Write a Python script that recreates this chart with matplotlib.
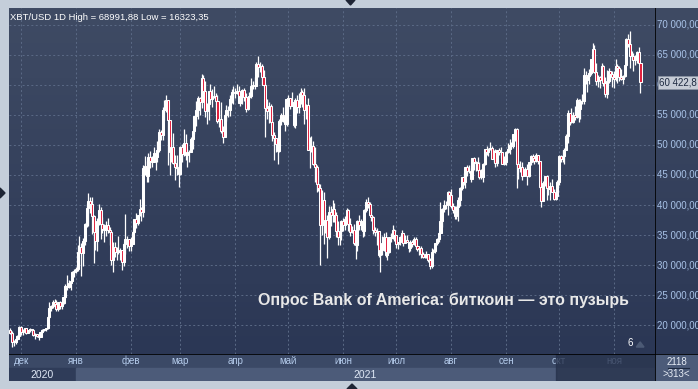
import numpy as np
import pandas as pd
import matplotlib.pyplot as plt
from matplotlib.patches import Polygon, Rectangle
from matplotlib.transforms import blended_transform_factory

# ---------------- data: XBT/USD daily, 2020-11-25 .. 2021-11-16 ----------------
start_date = '2020-11-25'
first_open = 19170

closes = [
    18730, 17150, 17140, 17720, 18180, 19700,  # nov 2020
    18770, 19210, 19440, 18690, 19150, 19360, 19170, 18320, 18550, 18250, 18040, 18800, 19170, 19270, 19440, 21350,
    22820, 23130, 23860, 23480, 22730, 23820, 23250, 23720, 24690, 26450, 26270, 27050, 27370, 28890, 28990,  # dec
    29390, 32190, 33000, 31990, 33990, 36820, 39470, 40670, 40240, 38240, 35530, 34010, 37390, 39150, 36770, 36010,
    35810, 36630, 35890, 35500, 30830, 33010, 32090, 32290, 32250, 32500, 30430, 33450, 34300, 34300, 33110,  # jan
    33530, 35510, 37660, 36960, 38290, 39260, 38900, 46200, 46480, 44850, 47990, 47410, 47200, 48620, 47920, 49160,
    52120, 51600, 55900, 55900, 57490, 54100, 48890, 49700, 47060, 46280, 46110, 45140,  # feb
    49600, 48440, 50350, 48370, 48760, 48880, 50970, 52380, 54880, 55860, 57800, 57220, 61190, 59000, 55650, 56900,
    58920, 57650, 58030, 58100, 57350, 54080, 54340, 52300, 51320, 55050, 55820, 55780, 57620, 58780, 58800,  # mar
    58740, 58970, 57060, 58200, 59130, 57990, 56000, 58080, 58090, 59770, 60000, 59850, 63550, 62950, 63150, 61340,
    60050, 56200, 55700, 56500, 53800, 51700, 51150, 50100, 49040, 54020, 55050, 54850, 53570, 57740,  # apr
    57810, 56580, 57200, 53250, 57470, 56400, 57380, 58870, 58270, 55850, 56710, 49180, 49700, 49900, 46800, 46400,
    43500, 42900, 36700, 40800, 37300, 37500, 34700, 38800, 38400, 39300, 38400, 35700, 34600, 35700, 37300,  # may
    36700, 37600, 39200, 36900, 35500, 35800, 33600, 33400, 37400, 36700, 37300, 35600, 39100, 40500, 40100, 38300,
    38000, 35800, 35500, 35600, 31600, 32500, 33700, 34600, 31600, 32200, 34600, 34500, 35900, 35000,  # jun
    33500, 33800, 34700, 35300, 33700, 34200, 33900, 32900, 33800, 33500, 34300, 33100, 32700, 32800, 31800, 31400,
    31500, 31800, 30800, 29800, 32100, 32300, 33600, 34300, 35400, 37300, 39400, 40000, 40000, 42200, 41600,  # jul
    39900, 39200, 38200, 39700, 40900, 42800, 44600, 43800, 46300, 45600, 45600, 44400, 47800, 47100, 47000, 45900,
    44700, 44600, 46800, 49300, 48900, 49300, 49500, 47700, 48900, 47000, 49100, 48900, 48800, 46900, 47100,  # aug
    48800, 49300, 50000, 49900, 51800, 52700, 46800, 46100, 46400, 44800, 45200, 46000, 44900, 47100, 48200, 47800,
    47300, 48300, 47300, 43000, 40700, 43600, 44900, 42800, 42700, 43200, 42200, 41000, 41500, 43800,  # sep
    48100, 47700, 48200, 49200, 51500, 55300, 53800, 53900, 55000, 54700, 57500, 56000, 57400, 57300, 61700, 60900,
    61500, 62000, 64300, 66000, 62200, 60700, 61300, 60900, 63100, 60300, 58500, 60600, 62300, 61900, 61300,  # oct
    61000, 63200, 62900, 61400, 61000, 61500, 63300, 67600, 66900, 64900, 64900, 64200, 64400, 65500, 63600, 60420,  # nov
]

highs = [
    19480, 19000, 17470, 17880, 18350, 19850,
    19900, 19300, 19580, 19500, 19170, 19420, 19390, 19280, 18640, 18560, 18280, 18950, 19410, 19330, 19560, 21500,
    23780, 23260, 24170, 24300, 24100, 23850, 24080, 23770, 24780, 26870, 28400, 27450, 27400, 28990, 29300,
    29690, 33300, 34800, 33600, 34450, 36950, 40180, 41950, 41380, 41350, 38260, 36600, 37850, 40100, 39700, 37950,
    36800, 37400, 37850, 36400, 35600, 33800, 33800, 32950, 34870, 32800, 32560, 33800, 38500, 34900, 34300,
    34700, 35900, 37700, 38700, 38300, 40950, 39700, 46700, 48200, 47300, 48600, 48950, 48100, 49700, 49000, 50600,
    52600, 52500, 56300, 57500, 58350, 57500, 54200, 51300, 52000, 48400, 48300, 46600,
    49800, 50200, 52600, 51800, 49400, 49200, 51400, 52400, 54900, 57400, 58100, 58000, 61800, 61600, 60600, 57000,
    59000, 60100, 59400, 59900, 58600, 58400, 55800, 57200, 53200, 55100, 56600, 56500, 58400, 59400, 59800,
    59500, 60100, 59800, 58500, 59300, 59500, 58700, 58200, 58800, 61200, 60700, 61300, 63800, 64900, 63800, 63500,
    62500, 60400, 57600, 57100, 56800, 55500, 52100, 51200, 50500, 54300, 55300, 56400, 55200, 57900,
    58400, 57900, 58900, 57200, 57900, 58300, 58600, 59500, 59200, 59500, 56900, 57900, 51300, 51500, 50600, 49700,
    46600, 45800, 43500, 42500, 42200, 38800, 38300, 39900, 39800, 40800, 40400, 38800, 37300, 36400, 37500,
    37900, 38200, 39500, 39300, 37900, 36500, 36800, 34000, 37500, 38400, 37700, 37400, 39400, 41000, 41300, 40500,
    39500, 38200, 36400, 36100, 35700, 33300, 34800, 35300, 35500, 32700, 34700, 35300, 36600, 36000,
    35000, 33900, 34900, 35900, 35300, 35000, 35000, 33900, 34100, 34200, 34600, 34600, 33300, 33100, 33200, 32200,
    31900, 32400, 31900, 31100, 32800, 32600, 33600, 34500, 35500, 40500, 39500, 40900, 40600, 42300, 42400,
    42600, 40400, 39800, 39900, 41400, 43000, 44700, 45300, 46400, 46700, 46700, 46200, 47900, 48000, 47400, 48000,
    47100, 46000, 47000, 49400, 49800, 49500, 50500, 49900, 49200, 49400, 49200, 49500, 49700, 48900, 48200,
    49000, 50400, 51000, 50500, 51900, 52800, 52900, 47400, 47300, 47100, 45900, 46400, 46900, 47200, 48400, 48500,
    48100, 48700, 48400, 47400, 43600, 44000, 44900, 45000, 42900, 43900, 44300, 42700, 42600, 44100,
    48400, 48400, 49200, 49500, 51900, 55800, 55300, 56100, 55500, 56500, 57800, 57600, 57700, 58500, 62900, 62300,
    61700, 62600, 64400, 67000, 66600, 63700, 61700, 61500, 63700, 63300, 61400, 62500, 62900, 62300, 62400,
    62400, 64300, 63500, 63100, 62600, 61600, 63400, 67800, 68500, 68990, 65600, 65400, 65000, 65600, 66300, 63600,
]

lows = [
    18580, 16330, 16500, 16900, 17560, 18180,
    18330, 18350, 18950, 18580, 18600, 18900, 18900, 18220, 17650, 17920, 17580, 18010, 18730, 19000, 19050, 19290,
    21230, 22350, 22770, 23070, 22390, 22340, 22670, 22730, 23450, 24500, 25850, 26100, 25880, 27330, 28000,
    28700, 28960, 32000, 28130, 29900, 33300, 36400, 36500, 38720, 35110, 30300, 32500, 32400, 36700, 34400, 35400,
    33900, 34800, 35300, 33400, 30070, 28800, 31400, 30900, 31900, 30800, 29240, 29900, 31900, 32900, 32300,
    32300, 33430, 35400, 36200, 36600, 38200, 37400, 37990, 45000, 43800, 43800, 46200, 46300, 47100, 45900, 47100,
    48900, 50900, 50800, 54100, 55500, 46600, 45000, 47100, 46800, 44100, 45000, 43000,
    45000, 47100, 48100, 47500, 46300, 47100, 48900, 49300, 51900, 53100, 54300, 55000, 56100, 58900, 54600, 53500,
    54200, 57000, 56300, 57900, 55500, 53700, 53000, 52000, 50400, 51300, 53950, 54700, 54900, 57000, 56900,
    57900, 58500, 57000, 56500, 56800, 57400, 55500, 55800, 57700, 57900, 59300, 59400, 59800, 61300, 62100, 60000,
    59700, 51300, 54300, 53600, 53700, 50600, 47500, 48800, 46900, 48800, 53400, 53900, 52400, 53100,
    57000, 56000, 56500, 53000, 52900, 55300, 55300, 56900, 56300, 53500, 54400, 49100, 46200, 48900, 46600, 43900,
    42200, 42300, 30000, 35000, 33500, 35300, 31100, 34400, 36500, 37200, 37200, 34700, 33400, 33400, 34200,
    35700, 35900, 37200, 35600, 34800, 35300, 33400, 31000, 32400, 35800, 35900, 34700, 34800, 38800, 39500, 38100,
    37400, 35200, 34900, 33400, 31300, 28800, 31700, 32400, 31300, 30800, 32000, 33900, 34300, 34000,
    32800, 32700, 33400, 34400, 33200, 33600, 33800, 32100, 32300, 33000, 33300, 32700, 32300, 31600, 31200, 31100,
    31100, 31200, 30500, 29300, 29500, 31700, 32000, 33400, 33900, 35300, 36400, 38800, 39300, 38400, 41000,
    39500, 38700, 37700, 37600, 37400, 39900, 42500, 43400, 42900, 44800, 45400, 43800, 44300, 45900, 45600, 45700,
    44400, 44300, 43900, 46700, 48300, 48100, 49100, 47600, 47200, 46400, 46500, 48400, 47900, 46800, 46700,
    46600, 48600, 48500, 49500, 49500, 50700, 42800, 44400, 45500, 44200, 44800, 44800, 43400, 44700, 46700, 47100,
    46900, 47100, 46900, 42600, 39700, 40600, 43100, 40800, 41700, 40800, 42100, 40800, 40800, 41500,
    43300, 47100, 47100, 46900, 49100, 50400, 53400, 53700, 53700, 54100, 54500, 53900, 54300, 56800, 56900, 60200,
    58900, 60100, 61600, 63500, 62000, 60000, 59700, 59500, 60700, 59900, 58000, 57800, 60300, 60700, 59600,
    59500, 60700, 60400, 60700, 60800, 60100, 61400, 63100, 66300, 62800, 64100, 62300, 63400, 63600, 63500, 58600,
]

month_labels = ['дек', 'янв', 'фев', 'мар', 'апр', 'май', 'июн', 'июл', 'авг', 'сен', 'окт', 'ноя']
price_levels = [20000, 25000, 30000, 35000, 40000, 45000, 50000, 55000, 60000, 65000, 70000]
last_price_label = '60 422,8'
title = 'XBT/USD 1D High = 68991,88 Low = 16323,35'
headline = 'Опрос Bank of America: биткоин — это пузырь'

assert len(closes) == len(highs) == len(lows)

# ---------------- prep ----------------
dates = pd.date_range(start_date, periods=len(closes), freq='D')
x = np.arange(len(closes))
closes = np.array(closes, dtype=float)
opens = np.concatenate([[first_open], closes[:-1]])
highs = np.array(highs, dtype=float)
lows = np.array(lows, dtype=float)
up = closes >= opens

month_starts = pd.date_range('2020-12-01', '2021-11-01', freq='MS')
month_x = np.array([(d - dates[0]).days for d in month_starts])
year_x = (pd.Timestamp('2021-01-01') - dates[0]).days

xlim = (-0.8, 364.2)
ylim = (15167, 72833)

W, H = 698, 389
fig = plt.figure(figsize=(W / 100, H / 100), dpi=100, facecolor='#c4ceda')


def px_axes(x0, y0, x1, y1):
    return fig.add_axes([x0 / W, 1 - y1 / H, (x1 - x0) / W, (y1 - y0) / H])


def gradient(a, top, bottom):
    t = np.linspace(0, 1, 256)[:, None]
    c0 = np.array(plt.matplotlib.colors.to_rgb(top))
    c1 = np.array(plt.matplotlib.colors.to_rgb(bottom))
    img = (c0 * (1 - t) + c1 * t)[:, None, :]
    a.imshow(img, extent=[0, 1, 0, 1], transform=a.transAxes, aspect='auto', zorder=0)


# ---------------- main panel ----------------
ax = px_axes(9, 8, 655, 354)
gradient(ax, '#3f4b64', '#2b3755')
ax.set_xlim(*xlim)
ax.set_ylim(*ylim)
for sp in ax.spines.values():
    sp.set_visible(False)
ax.set_xticks([])
ax.set_yticks([])

grid_kw = dict(color='#5b6a86', lw=0.7, linestyles=(0, (2, 2.5)), zorder=1)
ax.hlines(price_levels, *xlim, **grid_kw)
ax.vlines(month_x, *ylim, **grid_kw)

# candles
ax.vlines(x, lows, highs, color='white', lw=0.9, zorder=3)
body_lo = np.minimum(opens, closes)
body_h = np.abs(closes - opens)
ax.bar(x, body_h, bottom=body_lo, width=1.15,
       color=np.where(up, 'white', '#e01e3c'), edgecolor='white', linewidth=0.75, zorder=4)

ax.text(0.0015, 0.985, title, transform=ax.transAxes, ha='left', va='top',
        fontsize=6.8, color='white', family='Liberation Sans')
ax.text(0.673, 0.155, headline, transform=ax.transAxes, ha='center', va='center',
        fontsize=11.5, color='#e8e8e8', family='Liberation Sans', fontweight='bold')
ax.text(0.962, 0.018, '6', transform=ax.transAxes, ha='center', va='bottom',
        fontsize=7, color='white', family='Liberation Sans')
ax.add_patch(Polygon([[0.971, 0.02], [0.983, 0.02], [0.977, 0.035]], closed=True,
                     transform=ax.transAxes, color='#4c5a75', zorder=5))

# ---------------- right price axis ----------------
axr = px_axes(655, 8, 698, 354)
gradient(axr, '#3f4b64', '#2b3755')
axr.set_xlim(0, 1)
axr.set_ylim(*ylim)
axr.set_xticks([])
axr.set_yticks([])
for sp in axr.spines.values():
    sp.set_visible(False)
axr.axvline(0, color='black', lw=1.2)
tr = blended_transform_factory(axr.transAxes, axr.transData)
for v in price_levels:
    lab = f'{v:,.2f}'.replace(',', ' ').replace('.', ',')
    axr.text(0.05, v, lab, transform=tr, ha='left', va='center',
             fontsize=7, color='#a9c3e8', family='Liberation Sans', clip_on=False)
axr.text(0.1, closes[-1], last_price_label, transform=tr, ha='left', va='center',
         fontsize=7, color='#1d2940', family='Liberation Sans',
         bbox=dict(boxstyle='square,pad=0.15', fc='#c6ccd6', ec='#8a93a3', lw=0.6))

# ---------------- bottom time axis ----------------
axb = px_axes(9, 354, 655, 381)
axb.set_xlim(*xlim)
axb.set_ylim(0, 1)
axb.set_xticks([])
axb.set_yticks([])
for sp in axb.spines.values():
    sp.set_visible(False)
axb.axhspan(0.48, 1, color='#3b4966', zorder=0)
axb.add_patch(Rectangle((xlim[0], 0), year_x - xlim[0], 0.48, color='#2f3c59', zorder=0))
axb.add_patch(Rectangle((year_x, 0), xlim[1] - year_x, 0.48, color='#4c5b79', zorder=0))
axb.axhline(1, color='black', lw=1.2, zorder=5)
for mx, lab in zip(month_x, month_labels):
    axb.text(mx, 0.74, lab, ha='center', va='center', fontsize=7, color='#b4cbeb',
             family='Liberation Sans', zorder=2)
axb.text((xlim[0] + year_x) / 2, 0.24, '2020', ha='center', va='center', fontsize=7.5,
         color='#dfe8f5', family='Liberation Sans', zorder=2)
axb.text((year_x + xlim[1]) / 2, 0.24, '2021', ha='center', va='center', fontsize=7.5,
         color='#dfe8f5', family='Liberation Sans', zorder=2)
# dimmed zoom window
axb.add_patch(Rectangle((308.5, 0), xlim[1] - 308.5, 1, color='#27324c', alpha=0.78, zorder=3))

axbr = px_axes(655, 354, 698, 381)
axbr.set_xlim(0, 1)
axbr.set_ylim(0, 1)
axbr.set_xticks([])
axbr.set_yticks([])
for sp in axbr.spines.values():
    sp.set_visible(False)
axbr.set_facecolor('#4c5b79')
axbr.axvline(0, color='black', lw=1.2)
axbr.axhline(1, color='black', lw=1.2)
axbr.text(0.5, 0.72, '2118', ha='center', va='center', fontsize=7, color='#e6ecf5',
          family='Liberation Sans')
axbr.plot([0.3, 0.78], [0.5, 0.5], color='#1d2940', lw=0.8)
axbr.text(0.5, 0.26, '>313<', ha='center', va='center', fontsize=7, color='#e6ecf5',
          family='Liberation Sans')

# little frame markers
for pts in ([[346, 0], [355, 0], [350.5, 5]],
            [[0, 188], [0, 198], [5, 193]],
            [[347, 389], [357, 389], [352, 384]]):
    fig.patches.append(Polygon([[px / W, 1 - py / H] for px, py in pts], closed=True,
                               transform=fig.transFigure, color='#1e2535'))

fig.savefig('out.png', dpi=100, facecolor=fig.get_facecolor())
